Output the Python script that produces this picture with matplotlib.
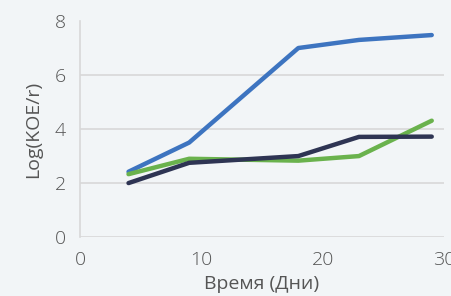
import matplotlib.pyplot as plt

days = [4, 9, 18, 23, 29]
blue_vals = [2.42, 3.5, 7.0, 7.3, 7.48]
green_vals = [2.33, 2.9, 2.83, 3.0, 4.31]
dark_vals = [2.0, 2.75, 3.0, 3.71, 3.72]

x_ticks = [0, 10, 20, 30]
y_ticks = [0, 2, 4, 6, 8]

plt.rcParams['font.family'] = ['Open Sans', 'DejaVu Sans']
plt.rcParams['font.weight'] = 'light'
bg = "#f2f5f7"
txt = "#555555"

fig = plt.figure(figsize=(4.52, 2.96), dpi=100, facecolor=bg)
ax = fig.add_axes([0.177, 0.199, 0.805, 0.73], facecolor=bg)

ax.plot(days, blue_vals, color="#3d74c0", lw=3.2, solid_capstyle="round")
ax.plot(days, green_vals, color="#6ab24d", lw=3.2, solid_capstyle="round")
ax.plot(days, dark_vals, color="#2e3453", lw=3.2, solid_capstyle="round")

ax.set_xlim(0, 30)
ax.set_ylim(0, 8)
ax.set_xticks(x_ticks)
ax.set_yticks(y_ticks)
ax.grid(axis="y", color="#d8d8d8", lw=1.2)
ax.get_ygridlines()[-1].set_visible(False)
ax.set_axisbelow(True)
for s in ["top", "right", "bottom"]:
    ax.spines[s].set_visible(False)
ax.spines["left"].set_color("#d8d8d8")
ax.spines["left"].set_linewidth(1.2)
ax.tick_params(length=0, labelsize=14, labelcolor=txt, pad=10)

ax.set_xlabel("Время (Дни)", fontsize=14, color=txt, labelpad=4)
ax.set_ylabel("Log(KOE/r)", fontsize=14, color=txt, labelpad=9)

fig.savefig("out.png", dpi=100, facecolor=bg)
